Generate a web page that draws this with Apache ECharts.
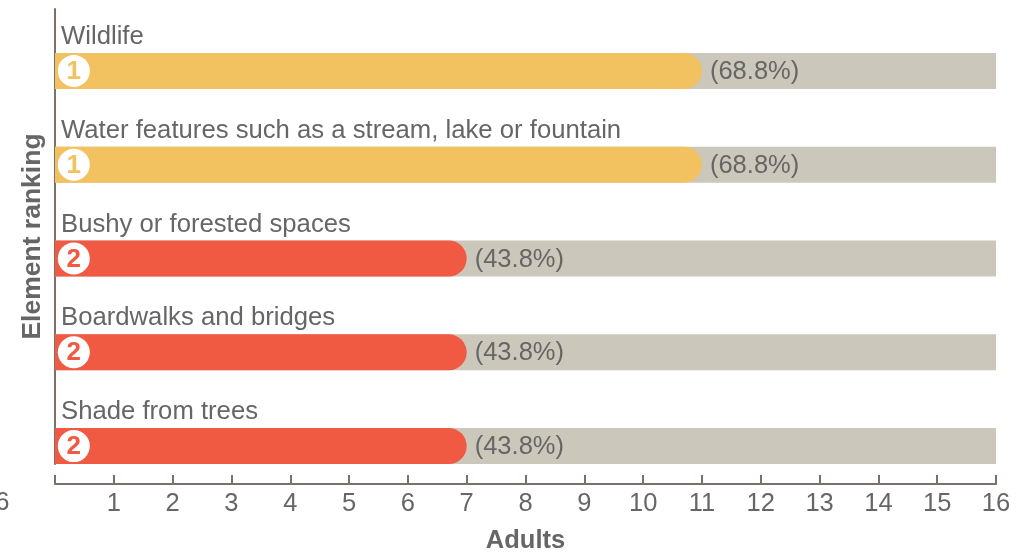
<!DOCTYPE html>
<html>
<head>
<meta charset="utf-8">
<style>html,body{margin:0;padding:0;background:#fff}#chart{width:1035px;height:553px}</style>
<script src="https://cdn.jsdelivr.net/npm/echarts@6/dist/echarts.min.js"></script>
</head>
<body>
<div id="chart"></div>
<script>
// Survey results: how many of 16 adults named each landscape element
const elements = [
  'Wildlife',
  'Water features such as a stream, lake or fountain',
  'Bushy or forested spaces',
  'Boardwalks and bridges',
  'Shade from trees'
];
const adults = [11, 11, 7, 7, 7];
const ranks = [1, 1, 2, 2, 2];
const totalAdults = 16;
const tickLabels = ['', '1', '2', '3', '4', '5', '6', '7', '8', '9', '10', '11', '12', '13', '14', '15', '16'];

const rankColors = { 1: '#f2c160', 2: '#f15a42' };
const trackColor = '#cbc7ba';
const axisColor = '#7b706a';
const textColor = '#666666';
const fontFamily = '"Liberation Sans", Arial, sans-serif';
const badgeX = 0.32;

const chart = echarts.init(document.getElementById('chart'), null, { renderer: 'canvas' });

chart.setOption({
  animation: false,
  backgroundColor: '#fff',
  textStyle: { fontFamily },
  grid: [
    { left: 55, right: 39, top: 24, bottom: 60, outerBoundsMode: 'none' },
    { left: 54.5, right: 39, top: 9, bottom: 89, outerBoundsMode: 'none' }
  ],
  xAxis: [
    {
      type: 'value', min: 0, max: totalAdults, interval: 1, offset: -9,
      position: 'bottom',
      axisLine: { show: true, lineStyle: { color: axisColor, width: 2 } },
      axisTick: { show: true, inside: true, length: 9, lineStyle: { color: axisColor, width: 2 } },
      axisLabel: {
        margin: 7, fontSize: 25.5, color: textColor, fontFamily, showMinLabel: true, showMaxLabel: true,
        hideOverlap: false, formatter: v => tickLabels[v]
      },
      splitLine: { show: false },
      name: 'Adults', nameLocation: 'middle', nameGap: 44,
      nameTextStyle: { fontSize: 25.5, fontWeight: 'bold', color: textColor, fontFamily }
    },
    { gridIndex: 1, type: 'value', show: false, min: 0, max: totalAdults }
  ],
  yAxis: [
    {
      type: 'category', data: elements, inverse: true,
      axisLine: { show: false }, axisTick: { show: false }, axisLabel: { show: false }
    },
    {
      gridIndex: 1, type: 'value', min: 0, max: 1, position: 'left',
      axisLine: { show: true, lineStyle: { color: axisColor, width: 2 } },
      axisTick: { show: false }, axisLabel: { show: false }, splitLine: { show: false },
      name: 'Element ranking', nameLocation: 'middle', nameGap: 8, nameRotate: 90,
      nameTextStyle: { fontSize: 26.5, fontWeight: 'bold', color: textColor, fontFamily }
    }
  ],
  graphic: [
    // Tick label sitting past the left edge of the canvas
    { type: 'text', left: -19, top: 490, silent: true,
      style: { text: tickLabels[totalAdults], fontSize: 25.5, fill: textColor, fontFamily } }
  ],
  series: [
    {
      type: 'bar', barWidth: 36, barGap: '-100%', z: 1,
      data: elements.map(() => totalAdults),
      itemStyle: { color: trackColor },
      label: {
        show: true, position: 'insideLeft', offset: [1, -34],
        fontSize: 25.7, color: textColor, fontFamily,
        formatter: p => elements[p.dataIndex]
      }
    },
    {
      type: 'bar', barWidth: 36, barGap: '-100%', z: 2,
      data: adults.map((v, i) => ({ value: v, itemStyle: { color: rankColors[ranks[i]] } })),
      itemStyle: { borderRadius: [0, 18, 18, 0] },
      label: {
        show: true, position: 'right', distance: 8, offset: [0, 1],
        fontSize: 25.5, color: textColor, fontFamily,
        formatter: p => '(' + (p.value / totalAdults * 100).toFixed(1) + '%)'
      }
    },
    {
      type: 'scatter', z: 3, symbol: 'circle', symbolSize: 32,
      data: ranks.map((r, i) => ({
        value: [badgeX, i],
        label: { color: rankColors[r] }
      })),
      itemStyle: { color: '#fff', opacity: 1 },
      label: {
        show: true, position: 'inside', offset: [0, 1], fontSize: 26, fontWeight: 'bold', fontFamily,
        formatter: p => String(ranks[p.dataIndex])
      }
    }
  ]
});
</script>
</body>
</html>
